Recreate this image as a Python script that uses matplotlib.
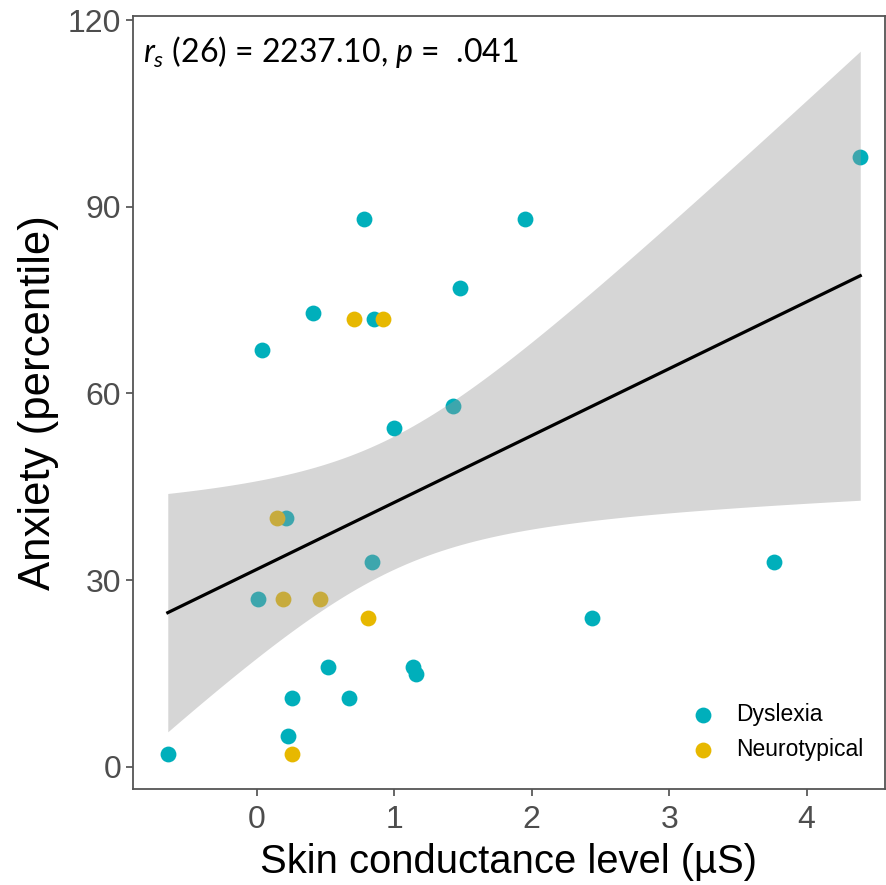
import numpy as np
import matplotlib.pyplot as plt

plt.rcParams['mathtext.fontset'] = 'custom'
plt.rcParams['mathtext.rm'] = 'Lato'
plt.rcParams['mathtext.it'] = 'Lato:italic'

# data
dys_x = [-0.647, 0.041, 0.406, 0.78, 0.856, 1.95, 1.477, 1.0, 1.428, 0.212, 0.012,
         0.837, 3.76, 4.39, 2.44, 0.516, 1.136, 1.16, 0.255, 0.674, 0.224]
dys_y = [2, 67, 73, 88, 72, 88, 77, 54.4, 58, 40, 27, 33, 33, 98, 24, 16, 16, 15, 11, 11, 5]
nt_x = [0.71, 0.917, 0.151, 0.192, 0.462, 0.808, 0.255]
nt_y = [72, 72, 40, 27, 27, 24, 2]

groups = ['Dyslexia', 'Neurotypical']
colors = ['#00AFBB', '#E7B800']
xticks = [0, 1, 2, 3, 4]
yticks = [0, 30, 60, 90, 120]

# linear fit over everybody + 95% CI (like geom_smooth(method='lm'))
x = np.array(dys_x + nt_x)
y = np.array(dys_y + nt_y)
n = len(x)
b1, b0 = np.polyfit(x, y, 1)
resid = y - (b0 + b1 * x)
s = np.sqrt(np.sum(resid ** 2) / (n - 2))
sxx = np.sum((x - x.mean()) ** 2)
t = 2.0555  # t(0.975, df=26)
xs = np.linspace(x.min(), x.max(), 100)
fit = b0 + b1 * xs
se = s * np.sqrt(1 / n + (xs - x.mean()) ** 2 / sxx)

fig = plt.figure(figsize=(8.86, 8.85), dpi=100)
ax = fig.add_axes([133 / 886, 1 - 789.3 / 885, 752 / 886, 773.3 / 885])

ax.scatter(dys_x, dys_y, s=130, color=colors[0], label=groups[0], zorder=2, linewidths=0)
ax.scatter(nt_x, nt_y, s=130, color=colors[1], label=groups[1], zorder=2, linewidths=0)
ax.fill_between(xs, fit - t * se, fit + t * se, color='#999999', alpha=0.4, lw=0, zorder=3)
ax.plot(xs, fit, color='black', lw=2.3, zorder=4)

ax.set_xlim(-0.9, 4.57)
ax.set_ylim(-3.6, 120.65)
ax.set_xticks(xticks)
ax.set_yticks(yticks)
ax.tick_params(colors='#4D4D4D', labelsize=23, length=5, width=1.2)
ax.tick_params(axis='x', pad=6)
for lab in ax.get_xticklabels() + ax.get_yticklabels():
    lab.set_fontfamily('Liberation Sans')
for sp in ax.spines.values():
    sp.set_color('#555555')
    sp.set_linewidth(1.3)

ax.set_xlabel('Skin conductance level (µS)', fontsize=28.8, family='Liberation Sans', labelpad=6)
ax.set_ylabel('Anxiety (percentile)', fontsize=31.5, family='Liberation Sans', labelpad=6)

ax.text(0.013, 0.977, r'$r_s$ (26) = 2237.10, $p$ =  .041', transform=ax.transAxes,
        fontsize=23, family='Lato', va='top', ha='left')

ax.legend(loc='lower right', frameon=False, prop={'family': 'Liberation Sans', 'size': 16.5},
          handletextpad=0.45, borderaxespad=0, labelspacing=0.5, bbox_to_anchor=(0.983, 0.025))

fig.savefig('out.png', dpi=100)
